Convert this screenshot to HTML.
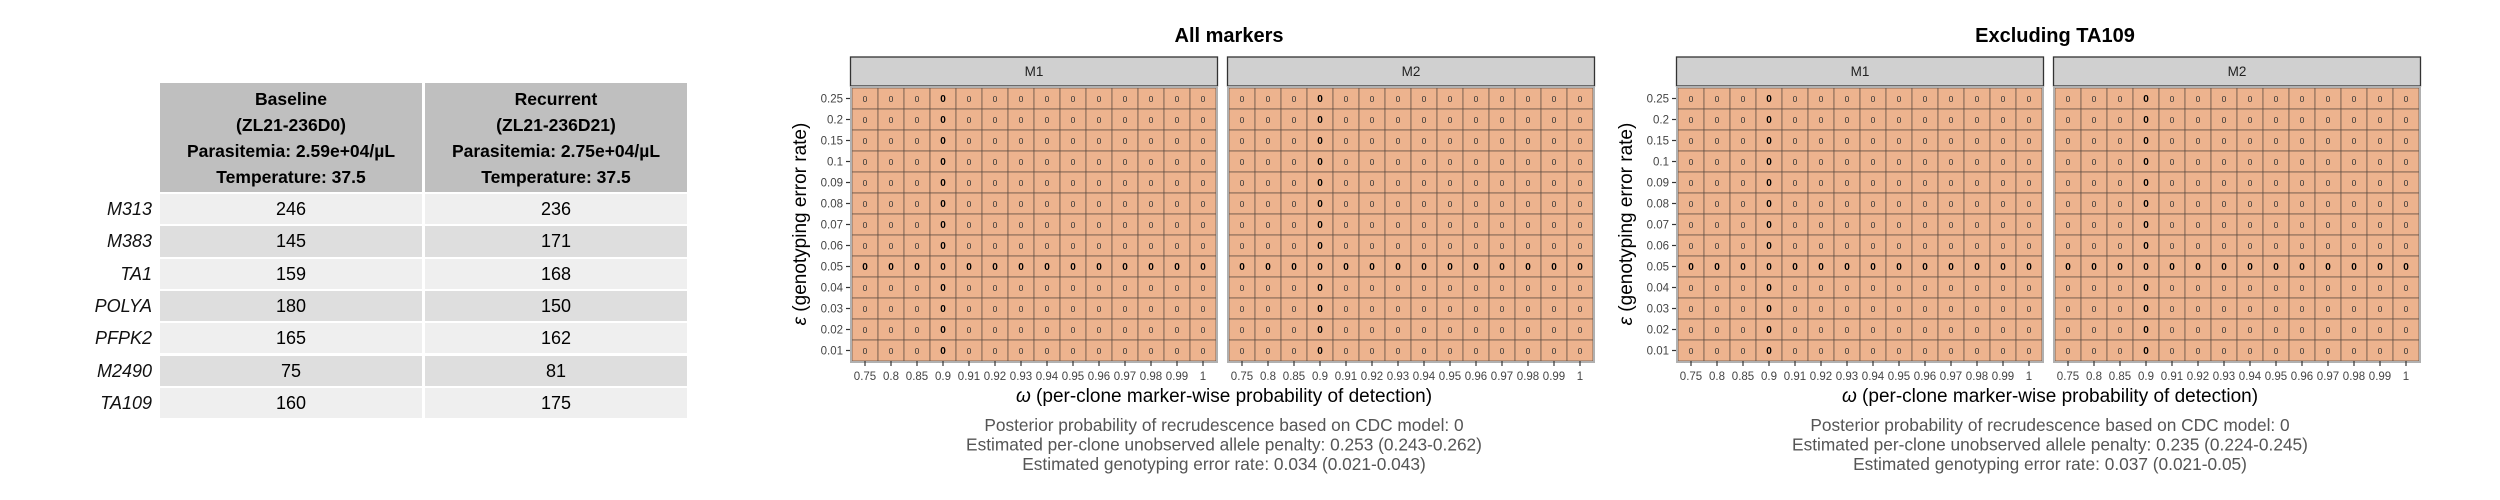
<!DOCTYPE html>
<html><head><meta charset="utf-8">
<style>
html,body{margin:0;padding:0;background:#fff;width:2500px;height:500px;overflow:hidden;font-family:"Liberation Sans",sans-serif;}
.rl{position:absolute;font-style:italic;font-size:18px;color:#111;text-align:right;width:140px;}
.hd,.cell{position:absolute;text-align:center;color:#000;}
.hd{background:#bfbfbf;font-weight:bold;font-size:17.5px;line-height:26px;}
.cell{font-size:18px;}
</style></head><body>
<div id="table"></div>
<svg id="chart" width="2500" height="500" style="position:absolute;left:0;top:0"></svg>
<script>
// ---- table data ----
const markers = ["M313","M383","TA1","POLYA","PFPK2","M2490","TA109"];
const baselineVals = [246,145,159,180,165,75,160];
const recurrentVals = [236,171,168,150,162,81,175];
const headers = [["Baseline","(ZL21-236D0)","Parasitemia: 2.59e+04/µL","Temperature: 37.5"],
                 ["Recurrent","(ZL21-236D21)","Parasitemia: 2.75e+04/µL","Temperature: 37.5"]];
// ---- heatmap data ----
const omegaLabels = ["0.75","0.8","0.85","0.9","0.91","0.92","0.93","0.94","0.95","0.96","0.97","0.98","0.99","1"];
const epsLabels = ["0.25","0.2","0.15","0.1","0.09","0.08","0.07","0.06","0.05","0.04","0.03","0.02","0.01"];
const panelNames = ["M1","M2"];
const chartTitles = ["All markers","Excluding TA109"];
const boldOmega = "0.9";
const boldEps = "0.05";
const cellValuesAll = [0,0,0,0,0,0,0,0,0,0,0,0,0,0,0,0,0,0,0,0,0,0,0,0,0,0];
const cellValuesExcl = [0,0,0,0,0,0,0,0,0,0,0,0,0,0,0,0,0,0,0,0,0,0,0,0,0,0];
const annotationsAll = ["Posterior probability of recrudescence based on CDC model: 0","Estimated per-clone unobserved allele penalty: 0.253 (0.243-0.262)","Estimated genotyping error rate: 0.034 (0.021-0.043)"];
const annotationsExcl = ["Posterior probability of recrudescence based on CDC model: 0","Estimated per-clone unobserved allele penalty: 0.235 (0.224-0.245)","Estimated genotyping error rate: 0.037 (0.021-0.05)"];

// ---- build table ----
const T = document.getElementById('table');
const colX = [160, 425], colW = 262, hdTop = 83, hdH = 109, rowTop = 194, rowH = 32.3;
headers.forEach((h, c) => {
  const d = document.createElement('div');
  d.className = 'hd';
  
  
  d.style.cssText = `left:${colX[c]}px;top:${hdTop}px;width:${colW}px;height:${hdH}px;padding-top:3px;box-sizing:border-box`;
  d.innerHTML = h.join('<br>');
  T.appendChild(d);
});
markers.forEach((m, i) => {
  const y = rowTop + i * rowH;
  const l = document.createElement('div');
  l.className = 'rl';
  
  
  l.style.cssText = `left:12px;top:${y}px;height:${rowH - 2}px;line-height:${rowH - 2}px`;
  l.textContent = m;
  T.appendChild(l);
  [baselineVals[i], recurrentVals[i]].forEach((v, c) => {
    const d = document.createElement('div');
    d.className = 'cell';
    
    
    d.style.cssText = `left:${colX[c]}px;top:${y}px;width:${colW}px;height:${rowH - 2}px;line-height:${rowH - 2}px;background:${i % 2 ? '#dedede' : '#efefef'}`;
    d.textContent = v;
    T.appendChild(d);
  });
});

// ---- heatmaps ----
const S = document.getElementById('chart');
const NS = 'http://www.w3.org/2000/svg';
function el(tag, attrs, parent, text) {
  const e = document.createElementNS(NS, tag);
  for (const k in attrs) e.setAttribute(k, attrs[k]);
  if (text !== undefined) e.textContent = text;
  (parent || S).appendChild(e);
  return e;
}
const cellW = 26, cellH = 21, panelTop = 88, stripTop = 57, stripH = 29;
function xPos(px0, i) { return px0 + i * cellW; }
function yPos(j) { return panelTop + j * cellH; }

function drawChart(ox, title, values, annots) {
  const g = el('g', {});
  
  
  const center = ox + 372;
  const t = el('text', {x: center + 5, y: 42, 'text-anchor': 'middle', 'font-size': 20, 'font-weight': 'bold', fill: '#000'}, g, title);
  
  
  panelNames.forEach((pn, p) => {
    const px0 = ox + p * 377;
    const pw = omegaLabels.length * cellW;
    const strip = el('rect', {x: px0 - 1.5, y: stripTop, width: pw + 3, height: stripH, fill: '#d0d0d0', stroke: '#333', 'stroke-width': 1.3}, g);
    
    
    const st = el('text', {x: px0 + pw / 2, y: stripTop + 19, 'text-anchor': 'middle', 'font-size': 13.5, fill: '#222'}, g, pn);
    
    
    epsLabels.forEach((ey, j) => {
      omegaLabels.forEach((wx, i) => {
        const v = values[(i + j) % values.length];
        const r = el('rect', {x: xPos(px0, i), y: yPos(j), width: cellW, height: cellH, fill: '#edb38e', stroke: '#5a4a40', 'stroke-width': 0.7}, g);
        
        
        const b = (wx === boldOmega || ey === boldEps);
        const ct = el('text', {x: xPos(px0, i) + cellW / 2, y: yPos(j) + cellH / 2 + 3.5, 'text-anchor': 'middle', 'font-size': b ? 10 : 8.5, 'font-weight': b ? 'bold' : 'normal', fill: b ? '#000' : '#333'}, g, v);
        
        
      });
    });
    el('rect', {x: px0 - 1, y: panelTop - 1, width: pw + 2, height: epsLabels.length * cellH + 2, fill: 'none', stroke: '#b0b0b0', 'stroke-width': 2}, g);
    omegaLabels.forEach((wx, i) => {
      const x = xPos(px0, i) + cellW / 2;
      const yb = panelTop + epsLabels.length * cellH;
      el('line', {x1: x, y1: yb, x2: x, y2: yb + 5, stroke: '#333', 'stroke-width': 1.2}, g);
      const tl = el('text', {x: x, y: yb + 19, 'text-anchor': 'middle', 'font-size': 11.5, fill: '#444'}, g, wx);
      
      
    });
    if (p === 0) {
      epsLabels.forEach((ey, j) => {
        const y = yPos(j) + cellH / 2;
        el('line', {x1: px0 - 6, y1: y, x2: px0 - 2, y2: y, stroke: '#333', 'stroke-width': 1.2}, g);
        const yl = el('text', {x: px0 - 9, y: y + 4, 'text-anchor': 'end', 'font-size': 11.5, fill: '#444'}, g, ey);
        
        
      });
    }
  });
  const yt = el('text', {x: 0, y: 0, 'text-anchor': 'middle', 'font-size': 19, fill: '#000', transform: `translate(${ox - 46},224) rotate(-90)`}, g);
  
  
  el('tspan', {'font-style': 'italic'}, yt, 'ε');
  el('tspan', {}, yt, ' (genotyping error rate)');
  const xt = el('text', {x: center, y: 402, 'text-anchor': 'middle', 'font-size': 19, fill: '#000'}, g);
  
  
  el('tspan', {'font-style': 'italic'}, xt, 'ω');
  el('tspan', {}, xt, ' (per-clone marker-wise probability of detection)');
  annots.forEach((a, k) => {
    const at = el('text', {x: center, y: 431 + k * 19.5, 'text-anchor': 'middle', 'font-size': 17.3, fill: '#555'}, g, a);
    
    
  });
}
drawChart(852, chartTitles[0], cellValuesAll, annotationsAll);
drawChart(1678, chartTitles[1], cellValuesExcl, annotationsExcl);
</script>
</body></html>
